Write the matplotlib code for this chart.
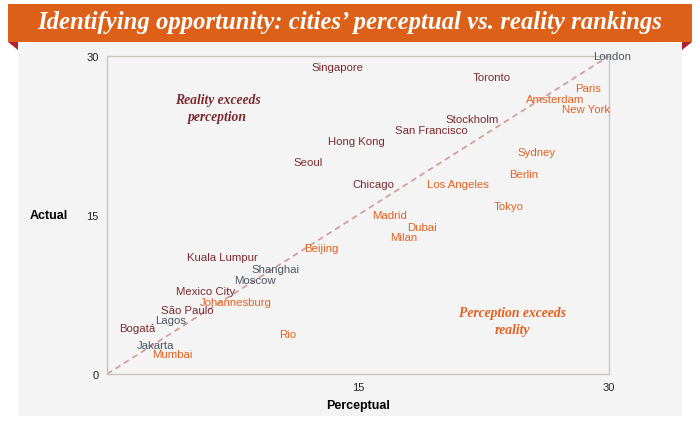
import matplotlib
matplotlib.use("Agg")
import matplotlib.pyplot as plt
from matplotlib.patches import Rectangle, Polygon

# city label positions (perceptual rank, actual rank)
cities = ['Singapore', 'Toronto', 'London', 'Paris', 'Amsterdam', 'New York',
          'Stockholm', 'San Francisco', 'Hong Kong', 'Seoul', 'Chicago',
          'Los Angeles', 'Sydney', 'Berlin', 'Tokyo', 'Madrid', 'Dubai', 'Milan',
          'Beijing', 'Kuala Lumpur', 'Shanghai', 'Moscow', 'Mexico City',
          'Johannesburg', 'São Paulo', 'Lagos', 'Bogatá', 'Rio', 'Jakarta', 'Mumbai']
perceptual = [13.8, 23.0, 30.2, 28.75, 26.8, 28.6,
              21.8, 19.4, 14.9, 12.0, 15.9,
              21.0, 25.7, 24.9, 24.0, 16.9, 18.8, 17.75,
              12.8, 6.9, 10.1, 8.85, 5.9,
              7.7, 4.8, 3.8, 1.8, 10.8, 2.9, 3.9]
actual = [29.0, 28.0, 30.0, 27.0, 25.9, 25.0,
          24.05, 23.0, 22.0, 20.0, 17.9,
          17.9, 20.9, 18.9, 15.85, 15.0, 13.9, 12.9,
          11.9, 11.0, 9.9, 8.9, 7.8,
          6.8, 6.0, 5.1, 4.3, 3.8, 2.7, 1.9]
# r = reality exceeds, p = perception exceeds, e = about even
group = ['r', 'r', 'e', 'p', 'p', 'p',
         'r', 'r', 'r', 'r', 'r',
         'p', 'p', 'p', 'p', 'p', 'p', 'p',
         'p', 'r', 'e', 'e', 'r',
         'p', 'r', 'e', 'r', 'p', 'e', 'p']

maroon = '#7a2a2e'
orange = '#e5601f'
slate = '#4d5663'
colors = {'r': maroon, 'p': orange, 'e': slate}

plt.rcParams['font.family'] = ['Liberation Sans', 'DejaVu Sans']

fig = plt.figure(figsize=(7, 4.27), dpi=100)
W, H = 700, 427

def box(x0, y0, x1, y1):
    # pixel box (top-left origin) -> figure fractions
    return (x0 / W, 1 - y1 / H), (x1 - x0) / W, (y1 - y0) / H

# background panel
xy, w, h = box(18, 44, 682, 417)
fig.patches.append(Rectangle(xy, w, h, transform=fig.transFigure,
                             facecolor='#f5f4f4', edgecolor='none', zorder=0))
# folded ribbon corners
fig.patches.append(Polygon([(8 / W, 1 - 43 / H), (18 / W, 1 - 43 / H), (18 / W, 1 - 51 / H)],
                           transform=fig.transFigure, facecolor='#b3222c', edgecolor='none'))
fig.patches.append(Polygon([(682 / W, 1 - 43 / H), (692 / W, 1 - 43 / H), (682 / W, 1 - 51 / H)],
                           transform=fig.transFigure, facecolor='#b3222c', edgecolor='none'))
# title banner
xy, w, h = box(8, 5, 692, 43)
fig.patches.append(Rectangle(xy, w, h, transform=fig.transFigure,
                             facecolor='#dc6018', edgecolor='none', zorder=1))
fig.text(350 / W, 1 - 23 / H, 'Identifying opportunity: cities\u2019 perceptual vs. reality rankings',
         ha='center', va='center', color='white', fontsize=17.8,
         fontfamily='Liberation Serif', fontstyle='italic', fontweight='bold')

ax = fig.add_axes([107 / W, 1 - 375 / H, 502 / W, 318 / H])
ax.set_zorder(3)
ax.set_facecolor('none')
ax.set_xlim(0, 30)
ax.set_ylim(0, 30)
for s in ax.spines.values():
    s.set_color('#cbc5c0')
    s.set_linewidth(1)

ax.plot([0, 30], [0, 30], linestyle=(0, (3.5, 2.5)), color='#cf9a98', linewidth=1.2, zorder=1)

for name, x, y, g in zip(cities, perceptual, actual, group):
    ax.text(x, y, name, ha='center', va='center', fontsize=8.2, color=colors[g], zorder=3)

ax.text(6.6, 25.1, 'Reality exceeds\nperception', ha='center', va='center', color=maroon,
        fontsize=9.8, fontfamily='Liberation Serif', fontstyle='italic', fontweight='bold',
        linespacing=1.35)
ax.text(24.2, 5.0, 'Perception exceeds\nreality', ha='center', va='center', color=orange,
        fontsize=9.8, fontfamily='Liberation Serif', fontstyle='italic', fontweight='bold',
        linespacing=1.35)

ax.set_xticks([15, 30])
ax.set_yticks([0, 15, 30])
ax.tick_params(length=0, labelsize=8, labelcolor='#222222', pad=6)
ax.set_xlabel('Perceptual', fontsize=9, fontweight='bold', labelpad=5)
ax.set_ylabel('Actual', fontsize=9, fontweight='bold', rotation=0, labelpad=27, va='center')

fig.savefig('out.png', dpi=100)
